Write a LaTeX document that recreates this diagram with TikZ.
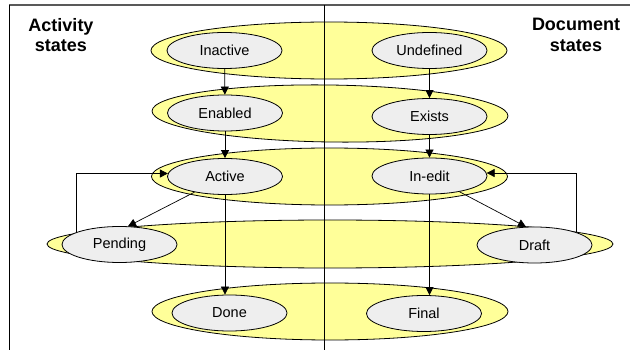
\documentclass[tikz,border=0pt]{standalone}
\usepackage{fontspec}
\setmainfont{Liberation Sans}
\usetikzlibrary{shapes.geometric,arrows.meta}
\definecolor{bandyellow}{HTML}{FFFF99}
\definecolor{stategray}{HTML}{EEEEEE}
\begin{document}
\begin{tikzpicture}[x=1pt,y=-1pt,
  band/.style={ellipse,draw=black,fill=bandyellow,line width=0.8pt,inner sep=0pt,
    minimum width=356pt,minimum height=57pt},
  state/.style={ellipse,draw=black,fill=stategray,line width=0.8pt,inner sep=0pt,
    minimum width=115pt,minimum height=36pt,font=\fontsize{14.5}{17}\selectfont},
  heading/.style={align=center,inner sep=0pt,font=\bfseries\fontsize{18}{20.5}\selectfont},
  flow/.style={-{Triangle[length=8pt,width=8pt]},line width=0.7pt}]
\useasboundingbox (0,0) rectangle (630,350);

% yellow bands, one per state level
\node[band] (band1) at (329,50.5) {};
\node[band,rotate=-0.8] (band2) at (330,113.5) {};
\node[band] (band3) at (329.5,176.5) {};
\node[band,minimum width=566pt,minimum height=48pt] (band4) at (330,244) {};
\node[band] (band5) at (330,311.5) {};

% frame and column divider
\coordinate (tl) at (9,5);
\coordinate (tr) at (630,5);
\coordinate (bl) at (9,350);
\coordinate (mt) at (324,5);
\coordinate (mb) at (324,350);
\draw[black!65,line width=1.3pt] (tl) -- (tr);
\draw[line width=1pt] (tl) -- (bl);
\draw[line width=1pt] (mt) -- (mb);

% column headings
\node[heading] (acthead) at (61,35) {Activity\\states};
\node[heading] (dochead) at (576,35) {Document\\states};

% activity states
\node[state] (inactive) at (224.5,50.5) {Inactive};
\node[state] (enabled) at (225,113) {Enabled};
\node[state] (active) at (225,176.5) {Active};
\node[state] (pending) at (119.5,244.5) {Pending};
\node[state] (done) at (229.5,313) {Done};

% document states
\node[state] (undefined) at (429.5,50.5) {Undefined};
\node[state] (exists) at (429.5,116.5) {Exists};
\node[state] (inedit) at (429.5,176) {In-edit};
\node[state] (draft) at (534.5,245) {Draft};
\node[state] (final) at (424,313.5) {Final};

% transitions
\draw[flow] (inactive) -- (enabled);
\draw[flow] (enabled) -- (active);
\draw[flow] (active.south) -- (active.south |- done.north);
\draw[flow] (active) -- (pending.65);
\draw[flow] (pending.164) |- (active.177);

\draw[flow] (undefined) -- (exists);
\draw[flow] (exists) -- (inedit);
\draw[flow] (inedit.south) -- (inedit.south |- final.north);
\draw[flow] (inedit) -- (draft.115);
\draw[flow] (draft.17) |- (inedit.3);
\end{tikzpicture}
\end{document}
